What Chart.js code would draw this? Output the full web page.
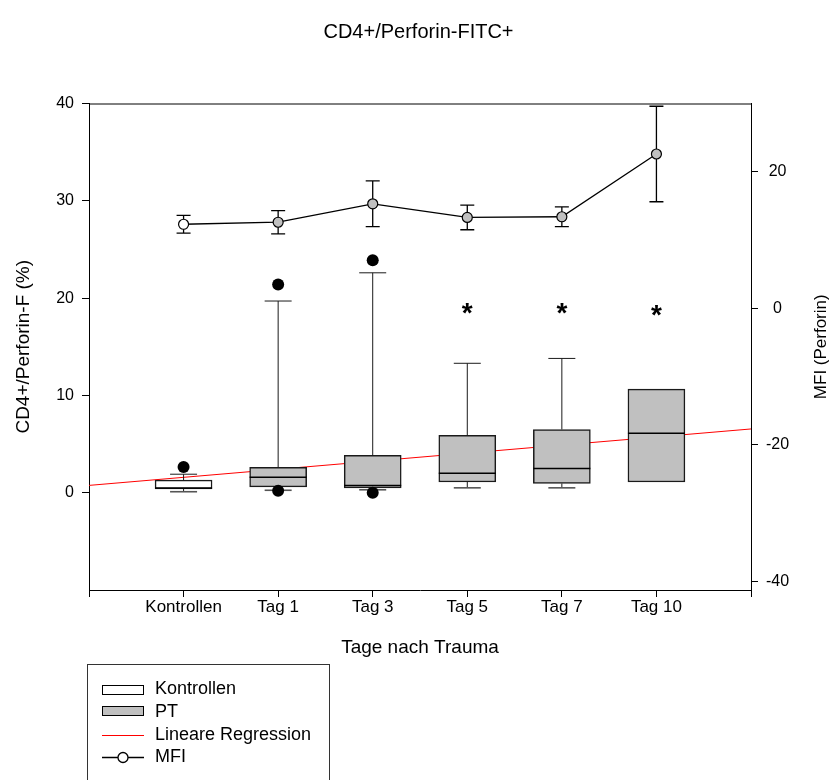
<!DOCTYPE html>
<html>
<head>
<meta charset="utf-8">
<title>CD4+/Perforin-FITC+</title>
<script src="https://cdn.jsdelivr.net/npm/chart.js@4.4.1/dist/chart.umd.min.js"></script>
<style>
  html, body { margin: 0; padding: 0; background: #fff; }
  #wrap { width: 837px; height: 780px; }
</style>
</head>
<body>
<div id="wrap"><canvas id="chart" width="837" height="780"></canvas></div>
<script>
// controls first, then days after trauma
const categories = ['Kontrollen', 'Tag 1', 'Tag 3', 'Tag 5', 'Tag 7', 'Tag 10'];

// box plot statistics, CD4+/Perforin-F (%)
const whiskerLow  = [0.1, 0.25, 0.3, 0.5, 0.5, null];
const quartile1   = [0.38, 0.6, 0.5, 1.1, 0.95, 1.1];
const medians     = [0.48, 1.6, 0.75, 2.0, 2.5, 6.1];
const quartile3   = [1.3, 2.6, 3.85, 5.9, 6.5, 10.65];
const whiskerHigh = [1.9, 19.7, 22.6, 13.3, 13.8, null];

// single values outside the whiskers
const outlierDay   = [1, 2, 2, 3, 3];
const outlierValue = [2.65, 21.4, 0.2, 23.9, 0.0];

// MFI (Perforin): mean and error
const mfiMean = [12.3, 12.6, 15.3, 13.3, 13.4, 22.6];
const mfiErr  = [1.3, 1.7, 3.35, 1.8, 1.45, 7.0];

// linear regression over the whole panel
const regressionX = [0, 7];
const regressionY = [0.75, 6.55];

// significance marks
const sigDay   = [4, 5, 6];
const sigLevel = [18.3, 18.3, 18.1];

const xTicks  = [0, 1, 2, 3, 4, 5, 6, 7];
const yTicks  = [0, 10, 20, 30, 40];
const y2Ticks = [-40, -20, 0, 20];

const BOX_W = 57;
const GRAY = '#c0c0c0';

Chart.defaults.font.family = 'Arial, "Liberation Sans", sans-serif';
Chart.defaults.color = '#000';

const boxes = categories.map((c, i) => ({ x: i + 1, y: [quartile1[i], quartile3[i]] }));

// whiskers, caps and medians on top of the boxes, MFI error bars under the circles,
// plus the frame top, the right-hand title, asterisks and the legend box
const boxExtras = {
  id: 'boxExtras',
  afterDatasetDraw(chart, args) {
    if (args.index !== 1) return;
    const { ctx, scales: { x, y } } = chart;
    ctx.save();
    categories.forEach((c, i) => {
      const cx = x.getPixelForValue(i + 1);
      const half = BOX_W / 2, cap = 13.5;
      ctx.strokeStyle = '#1a1a1a';
      ctx.lineWidth = 1;
      if (whiskerHigh[i] != null) {
        const yt = y.getPixelForValue(whiskerHigh[i]), yb = y.getPixelForValue(quartile3[i]);
        ctx.beginPath();
        ctx.moveTo(cx, yb); ctx.lineTo(cx, yt);
        ctx.moveTo(cx - cap, yt); ctx.lineTo(cx + cap, yt);
        ctx.stroke();
      }
      if (whiskerLow[i] != null) {
        const yt = y.getPixelForValue(quartile1[i]), yb = y.getPixelForValue(whiskerLow[i]);
        ctx.beginPath();
        ctx.moveTo(cx, yt); ctx.lineTo(cx, yb);
        ctx.stroke();
        ctx.strokeStyle = '#555';
        ctx.lineWidth = 1.6;
        ctx.beginPath();
        ctx.moveTo(cx - cap, yb); ctx.lineTo(cx + cap, yb);
        ctx.stroke();
      }
      const ym = y.getPixelForValue(medians[i]);
      ctx.strokeStyle = '#000';
      ctx.lineWidth = 1.5;
      ctx.beginPath();
      ctx.moveTo(cx - half, ym); ctx.lineTo(cx + half, ym);
      ctx.stroke();
    });
    ctx.restore();
  },
  beforeDatasetDraw(chart, args) {
    if (args.index !== 4) return;
    const { ctx, scales: { x, y2 } } = chart;
    ctx.save();
    ctx.strokeStyle = '#000';
    ctx.lineWidth = 1.3;
    mfiMean.forEach((m, i) => {
      const cx = x.getPixelForValue(i + 1);
      const yt = y2.getPixelForValue(m + mfiErr[i]), yb = y2.getPixelForValue(m - mfiErr[i]);
      ctx.beginPath();
      ctx.moveTo(cx, yt); ctx.lineTo(cx, yb);
      ctx.moveTo(cx - 7, yt); ctx.lineTo(cx + 7, yt);
      ctx.moveTo(cx - 7, yb); ctx.lineTo(cx + 7, yb);
      ctx.stroke();
    });
    ctx.restore();
  },
  afterDraw(chart) {
    const { ctx, chartArea: a, scales: { x, y } } = chart;
    ctx.save();
    // top of the frame
    ctx.strokeStyle = '#000';
    ctx.lineWidth = 1;
    ctx.beginPath();
    ctx.moveTo(a.left, a.top + 0.5); ctx.lineTo(a.right, a.top + 0.5);
    ctx.stroke();

    // significance asterisks
    ctx.fillStyle = '#000';
    ctx.font = 'bold 28px Arial, "Liberation Sans", sans-serif';
    ctx.textAlign = 'center';
    ctx.textBaseline = 'middle';
    sigDay.forEach((d, i) => ctx.fillText('*', x.getPixelForValue(d), y.getPixelForValue(sigLevel[i])));

    // right-hand axis title, reading upwards
    ctx.save();
    ctx.translate(821, (a.top + a.bottom) / 2);
    ctx.rotate(-Math.PI / 2);
    ctx.font = '17px Arial, "Liberation Sans", sans-serif';
    ctx.fillText('MFI (Perforin)', 0, 0);
    ctx.restore();

    // legend
    ctx.strokeStyle = '#333';
    ctx.strokeRect(87.5, 664.5, 242, 140);
    ctx.font = '18px Arial, "Liberation Sans", sans-serif';
    ctx.textAlign = 'left';
    const rows = [689.5, 712, 735, 757.5];
    const labels = ['Kontrollen', 'PT', 'Lineare Regression', 'MFI'];
    labels.forEach((t, i) => ctx.fillText(t, 155, rows[i]));
    ctx.lineWidth = 1;
    ctx.strokeStyle = '#000';
    ctx.fillStyle = '#fff';
    ctx.fillRect(102.5, 685.5, 41, 9);
    ctx.strokeRect(102.5, 685.5, 41, 9);
    ctx.fillStyle = GRAY;
    ctx.fillRect(102.5, 706.5, 41, 9);
    ctx.strokeRect(102.5, 706.5, 41, 9);
    ctx.strokeStyle = '#f00';
    ctx.beginPath();
    ctx.moveTo(102, 735.5); ctx.lineTo(144, 735.5);
    ctx.stroke();
    ctx.strokeStyle = '#000';
    ctx.lineWidth = 1.3;
    ctx.beginPath();
    ctx.moveTo(102, 757.5); ctx.lineTo(144, 757.5);
    ctx.stroke();
    ctx.fillStyle = '#fff';
    ctx.beginPath();
    ctx.arc(123, 757.5, 5, 0, Math.PI * 2);
    ctx.fill();
    ctx.stroke();
    ctx.restore();
  }
};

new Chart(document.getElementById('chart'), {
  type: 'bar',
  data: {
    datasets: [
      {
        label: 'Kontrollen',
        data: boxes.slice(0, 1),
        backgroundColor: '#fff',
        borderColor: '#1a1a1a',
        borderWidth: 1.5,
        borderSkipped: false,
        barThickness: BOX_W,
        grouped: false,
        order: 4
      },
      {
        label: 'PT',
        data: boxes.slice(1),
        backgroundColor: GRAY,
        borderColor: '#1a1a1a',
        borderWidth: 1.5,
        borderSkipped: false,
        barThickness: BOX_W,
        grouped: false,
        order: 3
      },
      {
        type: 'line',
        label: 'Lineare Regression',
        data: regressionX.map((v, i) => ({ x: v, y: regressionY[i] })),
        borderColor: '#ff0000',
        borderWidth: 1,
        pointRadius: 0,
        order: 5
      },
      {
        type: 'scatter',
        label: 'Ausreißer',
        data: outlierDay.map((d, i) => ({ x: d, y: outlierValue[i] })),
        backgroundColor: '#000',
        borderWidth: 0,
        pointRadius: 6,
        order: 1
      },
      {
        type: 'line',
        label: 'MFI',
        yAxisID: 'y2',
        data: mfiMean.map((m, i) => ({ x: i + 1, y: m })),
        borderColor: '#000',
        borderWidth: 1.3,
        pointRadius: 5,
        pointBorderWidth: 1.2,
        pointBorderColor: '#000',
        pointBackgroundColor: categories.map((c, i) => (i === 0 ? '#fff' : GRAY)),
        order: 0
      }
    ]
  },
  options: {
    responsive: false,
    animation: false,
    events: [],
    layout: { padding: { left: 0, right: 0, top: 0, bottom: 120.6 } },
    plugins: {
      legend: { display: false },
      tooltip: { enabled: false },
      title: {
        display: true,
        text: 'CD4+/Perforin-FITC+',
        color: '#000',
        font: { size: 20, weight: 'normal' },
        padding: { top: 20, bottom: 59.5 }
      }
    },
    scales: {
      x: {
        type: 'linear',
        min: 0,
        max: 7,
        offset: false,
        afterBuildTicks: s => { s.ticks = xTicks.map(v => ({ value: v })); },
        afterFit: s => { s.height = 69.4; },
        ticks: {
          autoSkip: false,
          maxRotation: 0,
          padding: 0,
          font: { size: 17 },
          callback: v => (v >= 1 && v <= categories.length ? categories[v - 1] : '')
        },
        grid: { offset: false, drawOnChartArea: false, drawTicks: true, tickLength: 7, tickColor: '#000' },
        border: { color: '#000', width: 1 },
        title: { display: true, text: 'Tage nach Trauma', font: { size: 19 }, padding: 0 }
      },
      y: {
        position: 'left',
        min: -10,
        max: 40,
        afterBuildTicks: s => { s.ticks = yTicks.map(v => ({ value: v })); },
        afterFit: s => { s.width = 89; },
        ticks: { padding: 8, font: { size: 16 } },
        grid: { drawOnChartArea: false, drawTicks: true, tickLength: 7, tickColor: '#000' },
        border: { color: '#000', width: 1 },
        title: { display: true, text: 'CD4+/Perforin-F (%)', font: { size: 19 }, padding: { top: 12.6, bottom: 0 } }
      },
      y2: {
        position: 'right',
        min: -41.3,
        max: 30,
        afterBuildTicks: s => { s.ticks = y2Ticks.map(v => ({ value: v })); },
        afterFit: s => { s.width = 86; },
        ticks: { padding: 8, crossAlign: 'center', font: { size: 16 } },
        grid: { drawOnChartArea: false, drawTicks: true, tickLength: 7, tickColor: '#000' },
        border: { color: '#000', width: 1 }
      }
    }
  },
  plugins: [boxExtras]
});
</script>
</body>
</html>
